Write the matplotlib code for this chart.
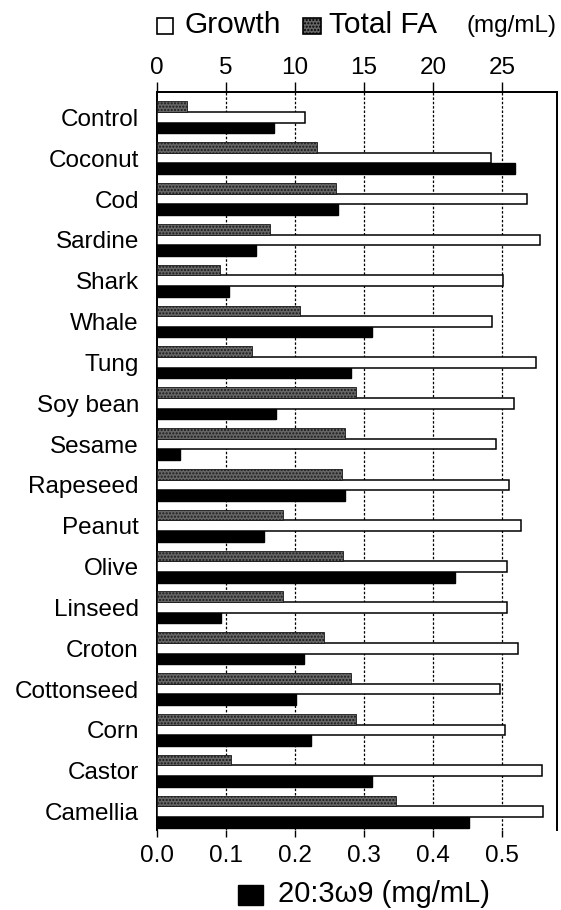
import matplotlib
matplotlib.use('Agg')
import matplotlib.pyplot as plt
import numpy as np
from matplotlib.patches import Rectangle

plt.rcParams['font.family'] = ['Liberation Sans', 'DejaVu Sans']

oils = ['Control', 'Coconut', 'Cod', 'Sardine', 'Shark', 'Whale', 'Tung', 'Soy bean',
        'Sesame', 'Rapeseed', 'Peanut', 'Olive', 'Linseed', 'Croton', 'Cottonseed',
        'Corn', 'Castor', 'Camellia']
# top scale (mg/mL)
total_fa = [2.2, 11.6, 13.0, 8.2, 4.6, 10.4, 6.9, 14.4, 13.6, 13.4, 9.1, 13.5, 9.1,
            12.1, 14.1, 14.4, 5.4, 17.3]
growth = [10.7, 24.2, 26.8, 27.8, 25.1, 24.3, 27.5, 25.9, 24.6, 25.5, 26.4, 25.4, 25.4,
          26.2, 24.9, 25.2, 27.9, 28.0]
# bottom scale (mg/mL)
c20_3w9 = [0.169, 0.519, 0.263, 0.143, 0.104, 0.312, 0.282, 0.172, 0.034, 0.273, 0.155,
           0.432, 0.093, 0.213, 0.202, 0.224, 0.312, 0.453]

stip_face = '#666666'
stip_hatch = '.....'
bar_h = 0.26
y = np.arange(len(oils))
W, H = 561, 910

fig = plt.figure(figsize=(5.61, 9.10), dpi=100)
ax = fig.add_axes([157 / W, 1 - 830 / H, 400 / W, 738 / H])
ax2 = ax.twiny()

ax.barh(y + bar_h, c20_3w9, height=bar_h, color='black', edgecolor='black', zorder=3)
ax2.barh(y, growth, height=bar_h, color='white', edgecolor='black', linewidth=1.1, zorder=3)
ax2.barh(y - bar_h, total_fa, height=bar_h, color=stip_face, edgecolor='#1a1a1a',
         hatch=stip_hatch, linewidth=0.6, zorder=3)

ax.set_xlim(0, 0.58)
ax2.set_xlim(0, 29)
ax.set_ylim(17.45, -0.62)
ax2.set_ylim(17.45, -0.62)

ax.set_xticks([0.0, 0.1, 0.2, 0.3, 0.4, 0.5])
ax.set_xticklabels(['0.0', '0.1', '0.2', '0.3', '0.4', '0.5'])
ax2.set_xticks([0, 5, 10, 15, 20, 25])
ax.set_yticks(y)
ax.set_yticklabels(oils)
ax.tick_params(axis='y', length=0, pad=13, labelsize=17.5)
ax.tick_params(axis='x', direction='out', length=5, width=1, labelsize=17.5, pad=6)
ax2.tick_params(axis='x', direction='out', length=7, width=1, labelsize=17.5, pad=2)

for v in [0.1, 0.2, 0.3, 0.4, 0.5]:
    ax.axvline(v, color='black', linestyle=(0, (2, 1.5)), linewidth=0.9, zorder=1)

for a in (ax, ax2):
    a.spines['bottom'].set_visible(False)
    for s in ('left', 'top', 'right'):
        a.spines[s].set_linewidth(1.3)

# top legend
fig.patches.append(Rectangle((157 / W, 1 - 34 / H), 16 / W, 16 / H,
                             transform=fig.transFigure, facecolor='white',
                             edgecolor='black', linewidth=1.2))
fig.text(185 / W, 1 - 25 / H, 'Growth', fontsize=21.5, va='center', ha='left')
fig.patches.append(Rectangle((303 / W, 1 - 34 / H), 18 / W, 16 / H,
                             transform=fig.transFigure, facecolor=stip_face,
                             edgecolor='black', hatch=stip_hatch, linewidth=1.2))
fig.text(329 / W, 1 - 25 / H, 'Total FA', fontsize=21.5, va='center', ha='left')
fig.text(557 / W, 1 - 26 / H, '(mg/mL)', fontsize=17.5, va='center', ha='right')

# bottom legend
fig.patches.append(Rectangle((238 / W, 1 - 905 / H), 25 / W, 20 / H,
                             transform=fig.transFigure, facecolor='black',
                             edgecolor='black'))
fig.text(278 / W, 1 - 894 / H, '20:3\u03c99 (mg/mL)', fontsize=21, va='center', ha='left')

fig.savefig('out.png', dpi=100)
